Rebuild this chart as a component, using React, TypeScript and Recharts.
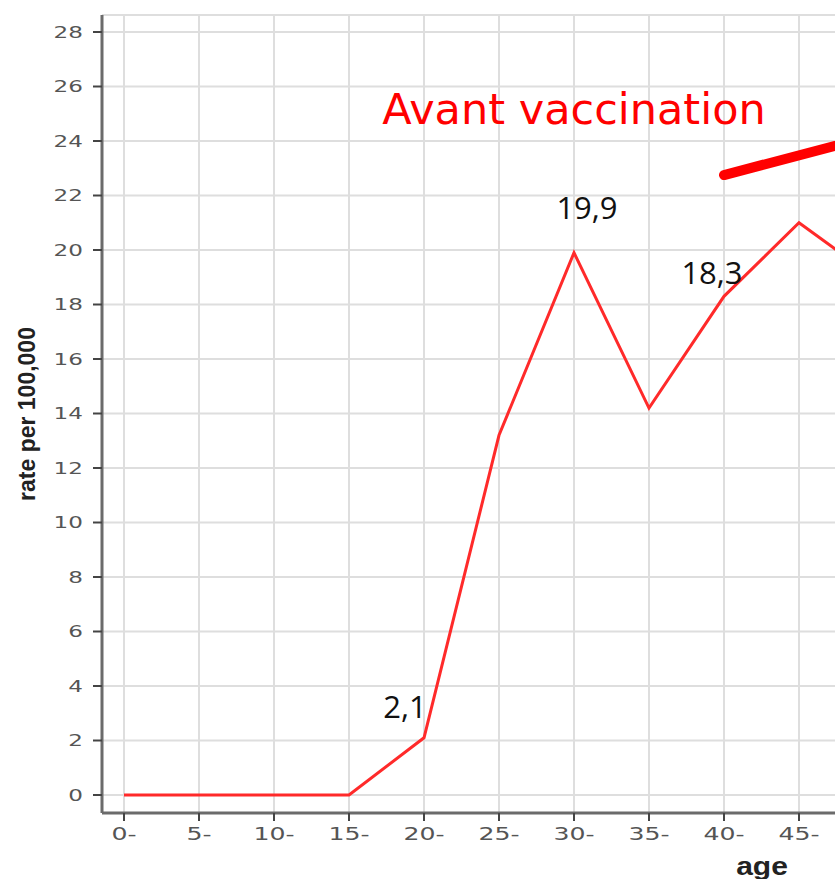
import { CartesianGrid, LineChart, Line, ReferenceDot, ReferenceLine, XAxis, YAxis } from "recharts";

const ages = ["0-", "5-", "10-", "15-", "20-", "25-", "30-", "35-", "40-", "45-", "50-"];
const rates = [0, 0, 0, 0, 2.1, 13.2, 19.9, 14.2, 18.3, 21.0, 19.0];
const yTicks = [0, 2, 4, 6, 8, 10, 12, 14, 16, 18, 20, 22, 24, 26, 28];

// values written next to some points (comma decimals as in the source)
const pointLabels: Record<string, string> = { "20-": "2,1", "30-": "19,9", "40-": "18,3" };
const labelOffsets: Record<string, [number, number]> = {
  "20-": [-19, -32],
  "30-": [13, -46],
  "40-": [-12, -24]
};

const annotationText = "Avant vaccination";
const annotationAt = { age: "30-", rate: 25.2 };
const arrowFrom = { age: "40-", rate: 22.75 };
const arrowTo = { age: "50-", rate: 24.2 };

const data = ages.map((age, i) => ({ age, rate: rates[i] }));

const tickFill = "#555";
const tickFont = "DejaVu Sans";

// the source picture is stretched sideways, so tick text is widened a bit
function YTick(props: any) {
  const { x, y, payload } = props;
  return (
    <g transform={`translate(${x},${y}) scale(1.4,1)`}>
      <text x={0} y={0} textAnchor="end" dominantBaseline="central" fill={tickFill} fontSize={16.5} fontFamily={tickFont}>
        {payload.value}
      </text>
    </g>
  );
}

function XTick(props: any) {
  const { x, y, payload } = props;
  return (
    <g transform={`translate(${x},${y}) scale(1.4,1)`}>
      <text x={0} y={0} dy="0.74em" textAnchor="middle" fill={tickFill} fontSize={18} fontFamily={tickFont}>
        {payload.value}
      </text>
    </g>
  );
}

function PointLabel(props: any) {
  const { x, y, index } = props;
  const age = ages[index];
  const text = pointLabels[age];
  if (!text) return null;
  const [dx, dy] = labelOffsets[age];
  return (
    <text
      x={x + dx}
      y={y + dy}
      textAnchor="middle"
      dominantBaseline="central"
      fill="#111"
      fontSize={31}
      fontFamily="Open Sans"
    >
      {text}
    </text>
  );
}

function YTitle(props: any) {
  const { viewBox } = props;
  const cx = 27;
  const cy = viewBox.y + viewBox.height / 2;
  return (
    <text
      x={cx}
      y={cy}
      transform={`rotate(-90 ${cx} ${cy})`}
      textAnchor="middle"
      dominantBaseline="central"
      fill="#222"
      fontSize={23}
      fontWeight="bold"
      fontFamily="Liberation Sans"
    >
      rate per 100,000
    </text>
  );
}

function XTitle(props: any) {
  const { viewBox } = props;
  const x = viewBox.x + 660;
  const y = 875;
  return (
    <g transform={`translate(${x},${y}) scale(1.2,1)`}>
      <text x={0} y={0} textAnchor="middle" fill="#222" fontSize={25} fontWeight="bold" fontFamily="Liberation Sans">
        age
      </text>
    </g>
  );
}

export default function App() {
  return (
    <div style={{ position: "absolute", left: 0, top: 0, width: 835, height: 879, overflow: "hidden", background: "#fff" }}>
      <style>{`body{margin:0;overflow:hidden}`}</style>
      <LineChart width={906} height={879} data={data} margin={{ top: 15, right: 10, bottom: 0, left: 0 }}>
        <CartesianGrid stroke="#dedede" strokeWidth={2} />
        <XAxis
          dataKey="age"
          height={66}
          padding={{ left: 22, right: 22 }}
          interval={0}
          axisLine={{ stroke: "#6b6b6b", strokeWidth: 3 }}
          tickLine={{ stroke: "#444", strokeWidth: 2 }}
          tickSize={8}
          tickMargin={6}
          tick={<XTick />}
          label={<XTitle />}
        />
        <XAxis
          xAxisId="top"
          dataKey="age"
          orientation="top"
          height={0}
          tick={false}
          tickLine={false}
          axisLine={{ stroke: "#6b6b6b", strokeWidth: 3 }}
        />
        <YAxis
          width={102}
          domain={[0, 28]}
          ticks={yTicks}
          interval={0}
          padding={{ top: 17, bottom: 18 }}
          axisLine={{ stroke: "#6b6b6b", strokeWidth: 3 }}
          tickLine={{ stroke: "#444", strokeWidth: 2 }}
          tickSize={9}
          tickMargin={10}
          tick={<YTick />}
          label={<YTitle />}
        />
        <Line
          dataKey="rate"
          stroke="#ff2a2a"
          strokeWidth={3}
          dot={false}
          isAnimationActive={false}
          label={<PointLabel />}
        />
        <ReferenceLine
          segment={[
            { x: arrowFrom.age, y: arrowFrom.rate },
            { x: arrowTo.age, y: arrowTo.rate }
          ]}
          stroke="#ff0000"
          strokeWidth={10}
          strokeLinecap="round"
          ifOverflow="visible"
        />
        <ReferenceDot
          x={annotationAt.age}
          y={annotationAt.rate}
          r={0}
          stroke="none"
          ifOverflow="visible"
          label={{
            value: annotationText,
            position: "center",
            fill: "#ff0000",
            fontSize: 43,
            fontFamily: "DejaVu Sans"
          }}
        />
      </LineChart>
    </div>
  );
}
